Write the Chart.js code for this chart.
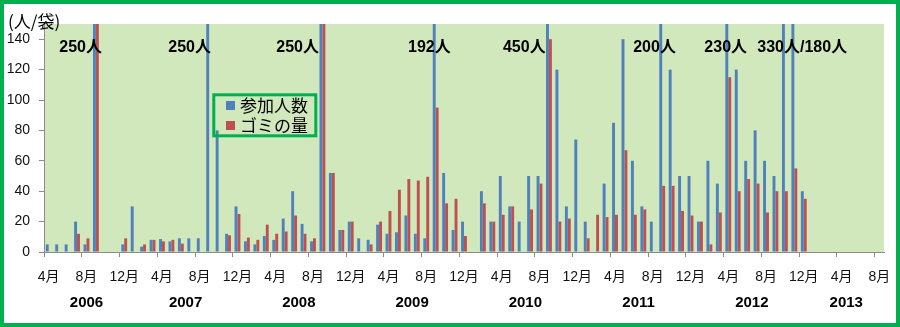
<!DOCTYPE html>
<html>
<head>
<meta charset="utf-8">
<script src="https://cdn.jsdelivr.net/npm/chart.js@4/dist/chart.umd.min.js"></script>
<style>
  html, body { margin: 0; padding: 0; background: #fff; }
  #wrap { width: 900px; height: 327px; }
</style>
</head>
<body>
<div id="wrap"><canvas id="c" width="900" height="327"></canvas></div>
<script>
// Monthly categories, April 2006 through August 2013
const firstYear = 2006, firstMonth = 4, monthCount = 89;
const months = [];
for (let k = 0; k < monthCount; k++) {
  const m = (firstMonth - 1 + k) % 12 + 1;
  const y = firstYear + Math.floor((firstMonth - 1 + k) / 12);
  months.push(y + '/' + m);
}

const years = ['2006', '2007', '2008', '2009', '2010', '2011', '2012', '2013'];
const valueTicks = [0, 20, 40, 60, 80, 100, 120, 140];

// 参加人数 (people per clean-up)
const participants = [
  5, 5, 5, 20, 5, 250, null, null, 5, 30, 3.5, 8,
  8.5, 7, 9, 9, 9, 250, 80, 12, 30, 7, 5, 10.5,
  8, 22, 40, 18.5, 7, 250, 52, 14.5, 20, 9, 8, 18,
  12, 13, 24, 12, 9, 192, 52, 14.5, 20, null, 40, 20,
  50, 30, 20, 50, 50, 450, 120, 30, 74, 20, null, 45,
  85, 140, 60, 30, 20, 200, 120, 50, 50, 20, 60, 45,
  230, 120, 60, 80, 60, 50, 330, 180, 40, null, null, null,
  null, null, null, null, null
];

// ゴミの量 (bags collected)
const bags = [
  null, null, null, 12, 9, 155, null, null, 9, null, 5, 8,
  7, 8, 5.5, null, null, null, null, 11, 25, 9.5, 8, 18,
  12, 13.5, 24, 12, 9, 155, 52, 14.5, 20, null, 5, 20,
  27, 41, 48, 47, 49.5, 95, 32, 35, 10.5, null, 32, 20,
  24.5, 30, null, 28, 45, 140, 20, 22, null, 9, 24.5, 23,
  24.5, 67, 24.5, 28, null, 43.5, 43.5, 27, 24, 20, 5, 26,
  115, 40, 48, 45, 26, 40, 40, 55, 35, null, null, null,
  null, null, null, null, null
];

// Participant counts written above the off-scale bars
const crowdNotes = [
  { month: '2006/9', text: '250人' },
  { month: '2007/9', text: '250人' },
  { month: '2008/9', text: '250人' },
  { month: '2009/9', text: '192人' },
  { month: '2010/9', text: '450人' },
  { month: '2011/9', text: '200人' },
  { month: '2012/4', text: '230人' },
  { month: '2012/10', text: '330人/180人' }
];

const BLUE = '#4f81bd', RED = '#c0504d', FRAME = '#00b050';
const LATIN = '"Liberation Sans", "Noto Sans CJK JP", sans-serif';
const CJK = '"Noto Sans CJK JP", sans-serif';

const decor = {
  id: 'decor',
  beforeDraw(chart) {
    const { ctx, chartArea: a } = chart;
    ctx.save();
    ctx.fillStyle = '#fff';
    ctx.fillRect(0, 0, chart.width, chart.height);
    ctx.fillStyle = '#d1e8bd';
    ctx.fillRect(a.left, a.top, a.right - a.left, a.bottom - a.top);
    ctx.restore();
  },
  afterDraw(chart) {
    const { ctx } = chart;
    const xs = chart.scales.x;
    ctx.save();

    // notes beside the tall bars
    const shifts = [-36.6, -40.9, -46.2, -27.7, -46, -29, -23.9, -27.6];
    ctx.font = 'bold 16px ' + LATIN;
    ctx.fillStyle = '#000';
    ctx.textBaseline = 'middle';
    ctx.textAlign = 'left';
    crowdNotes.forEach((n, k) => {
      const px = xs.getPixelForValue(months.indexOf(n.month));
      ctx.fillText(n.text, px + shifts[k], 48);
    });

    // year row under the month labels
    ctx.font = 'bold 15px ' + LATIN;
    ctx.textAlign = 'center';
    years.forEach(y => {
      const idx = months.map((m, i) => m.startsWith(y + '/') ? i : -1).filter(i => i >= 0);
      const cx = (xs.getPixelForValue(idx[0]) + xs.getPixelForValue(idx[idx.length - 1])) / 2;
      ctx.fillText(y, cx, 303);
    });

    // unit caption of the value axis
    ctx.font = '17px ' + CJK;
    ctx.textAlign = 'left';
    ctx.fillText('(人/袋)', 8, 22);

    // legend box
    ctx.strokeStyle = FRAME;
    ctx.lineWidth = 3;
    ctx.strokeRect(213.8, 94.8, 102, 41);
    chart.data.datasets.forEach((ds, k) => {
      const yy = 101 + k * 20;
      ctx.fillStyle = ds.backgroundColor;
      ctx.fillRect(226, yy, 9, 9);
      ctx.fillStyle = '#000';
      ctx.font = '17px ' + CJK;
      ctx.fillText(ds.label, 240, yy + 4.5);
    });

    // outer frame
    ctx.lineWidth = 4;
    ctx.strokeStyle = FRAME;
    ctx.strokeRect(2, 2, 896, 323);
    ctx.restore();
  }
};

new Chart(document.getElementById('c'), {
  type: 'bar',
  data: {
    labels: months,
    datasets: [
      { label: '参加人数', data: participants, backgroundColor: BLUE,
        categoryPercentage: 0.62, barPercentage: 1, clip: 0 },
      { label: 'ゴミの量', data: bags, backgroundColor: RED,
        categoryPercentage: 0.62, barPercentage: 1, clip: 0 }
    ]
  },
  options: {
    responsive: false,
    animation: false,
    layout: { padding: { left: 0, right: 16, top: 24, bottom: 0 } },
    plugins: { legend: { display: false }, tooltip: { enabled: false } },
    scales: {
      x: {
        offset: true,
        grid: {
          offset: true,
          drawOnChartArea: false,
          drawTicks: true,
          tickLength: 5,
          color: c => (c.index % 4 === 0 ? '#8c8c8c' : 'rgba(0,0,0,0)')
        },
        border: { color: '#8c8c8c' },
        ticks: {
          autoSkip: false,
          maxRotation: 0,
          minRotation: 0,
          padding: 12,
          color: '#111',
          font: { size: 14, family: LATIN },
          callback: (v, i) => (i % 4 === 0 ? months[i].split('/')[1] + '月' : '')
        },
        afterFit: s => { s.height = 75; s.paddingLeft = 0; s.paddingRight = 0; }
      },
      y: {
        min: 0,
        max: 150,
        ticks: {
          padding: 9,
          color: '#111',
          font: { size: 14, family: LATIN }
        },
        afterBuildTicks: s => { s.ticks = valueTicks.map(v => ({ value: v })); },
        grid: { drawOnChartArea: false, tickLength: 5, color: '#8c8c8c' },
        border: { color: '#8c8c8c' },
        afterFit: s => { s.width = 44; s.paddingTop = 0; s.paddingBottom = 0; }
      }
    }
  },
  plugins: [decor]
});
</script>
</body>
</html>
